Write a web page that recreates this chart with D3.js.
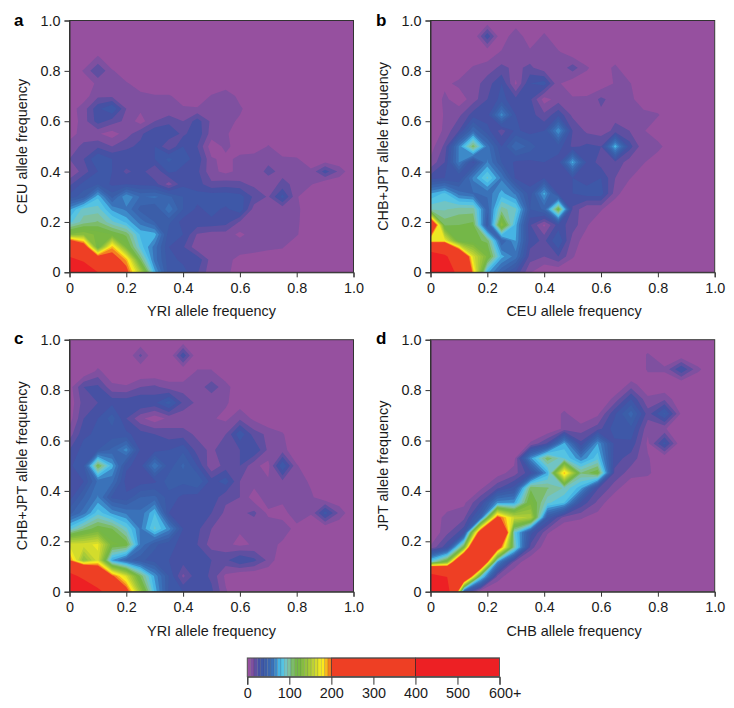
<!DOCTYPE html>
<html><head><meta charset="utf-8">
<script src="https://cdn.jsdelivr.net/npm/d3@7"></script>
<style>html,body{margin:0;padding:0;background:#fff}svg{display:block}
text{font-family:"Liberation Sans",Arial,sans-serif;fill:#1a1a1a}</style>
</head><body><svg id="c" width="734" height="708"></svg>
<script>
// rows run from allele frequency 0 upward; columns from 0 rightward
const gridA = [
[600,500,400,300,210,150,75,35,35,25,10,12,0,0,0,0,0,0,0,0,0],
[430,380,240,215,190,110,60,35,30,30,12,12,4,3,2,0,0,0,0,0,0],
[300,230,115,190,125,85,60,32,25,10,9,14,14,12,10,9,0,0,0,0,0],
[130,135,125,120,110,78,76,35,32,15,12,12,6,12,12,10,9,0,0,0,0],
[85,100,105,90,78,60,48,42,28,30,30,28,15,10,12,12,10,0,0,0,0],
[70,92,92,70,62,45,40,62,40,30,35,30,38,12,10,10,10,2,0,0,0],
[35,45,78,45,72,55,58,50,40,35,38,38,36,22,15,35,9,0,0,0,0],
[22,35,40,30,32,30,28,12,30,28,18,20,18,14,12,18,14,9,0,0,0],
[8,20,32,32,22,28,16,34,30,26,10,6,10,12,18,14,12,10,28,14,0],
[16,24,40,32,30,30,32,42,34,30,9,6,10,14,14,10,9,2,0,0,0],
[12,18,22,16,22,26,32,16,32,24,3,10,4,0,9,0,0,0,0,0,0],
[4,12,9,4,12,22,32,30,22,30,12,10,0,0,0,0,0,0,0,0,0],
[2,12,28,20,14,4,16,22,16,28,14,12,6,0,0,0,0,0,0,0,0],
[4,12,30,40,16,10,10,9,9,9,10,14,10,0,0,0,0,0,0,0,0],
[0,4,14,14,12,10,9,9,4,0,9,16,4,0,0,0,0,0,0,0,0],
[0,2,10,9,9,4,0,0,0,0,0,0,0,0,0,0,0,0,0,0,0],
[0,9,24,9,2,0,0,0,0,0,0,0,0,0,0,0,0,0,0,0,0],
[0,0,10,0,0,0,0,0,0,0,0,0,0,0,0,0,0,0,0,0,0],
[0,0,0,0,0,0,0,0,0,0,0,0,0,0,0,0,0,0,0,0,0],
[0,0,0,0,0,0,0,0,0,0,0,0,0,0,0,0,0,0,0,0,0],
[0,0,0,0,0,0,0,0,0,0,0,0,0,0,0,0,0,0,0,0,0]];
const gridB = [
[600,520,350,190,75,48,30,9,0,0,0,0,0,0,0,0,0,0,0,0,0],
[500,430,280,165,125,75,60,20,16,24,9,0,0,0,0,0,0,0,0,0,0],
[170,175,115,115,110,48,72,28,22,40,12,4,0,0,0,0,0,0,0,0,0],
[270,110,112,115,40,135,75,25,6,28,20,9,0,0,0,0,0,0,0,0,0],
[95,95,100,100,50,100,90,40,50,120,22,9,9,0,0,0,0,0,0,0,0],
[72,82,60,55,58,75,62,35,75,30,32,36,36,12,0,0,0,0,0,0,0],
[28,32,32,66,90,62,30,28,32,24,32,28,32,16,9,0,0,0,0,0,0],
[10,24,65,30,65,40,30,30,32,28,75,30,20,22,12,9,0,0,0,0,0],
[4,18,65,110,60,32,55,45,32,36,22,26,24,78,28,10,12,0,0,0,0],
[0,10,24,55,35,20,34,28,32,72,24,14,12,18,16,9,0,0,0,0,0],
[0,9,14,28,28,68,32,28,18,30,14,10,14,14,12,10,9,0,0,0,0],
[0,10,3,12,24,35,26,26,4,12,9,9,18,12,10,4,0,0,0,0,0],
[0,6,10,12,20,32,6,32,36,9,3,4,2,9,9,0,0,0,0,0,0],
[0,0,2,9,12,18,14,18,10,10,20,9,3,10,0,0,0,0,0,0,0],
[0,0,0,0,2,9,10,10,10,9,2,0,0,0,0,0,0,0,0,0,0],
[0,0,0,0,30,0,16,0,10,0,0,0,0,0,0,0,0,0,0,0,0],
[0,0,0,0,0,0,0,0,0,0,0,0,0,0,0,0,0,0,0,0,0]];
const gridC = [
[600,540,440,320,215,140,78,38,32,30,26,9,0,0,0,0,0,0,0,0,0],
[450,360,270,205,165,110,70,40,14,30,22,6,0,0,0,0,0,0,0,0,0],
[200,135,165,72,52,42,36,32,28,32,24,22,32,26,14,0,0,0,0,0,0],
[165,165,170,122,118,62,42,34,30,24,12,10,6,9,12,6,0,0,0,0,0],
[85,105,118,112,90,62,90,68,32,26,16,10,9,10,14,14,4,0,0,0,0],
[45,60,85,70,62,58,80,32,30,28,24,14,14,18,6,3,16,9,36,14,0],
[28,48,65,38,34,48,50,36,30,28,30,18,16,3,14,12,14,10,0,0,0],
[28,32,58,58,28,28,30,45,42,48,28,36,16,12,9,14,14,6,0,0,0],
[30,40,115,75,34,28,64,35,50,32,9,20,24,10,5,40,9,0,0,0,0],
[24,36,40,50,68,30,28,32,38,20,14,22,24,32,14,12,0,0,0,0,0],
[12,30,34,36,34,28,24,20,20,14,14,16,38,20,14,9,0,0,0,0,0],
[4,24,32,44,24,10,3,10,10,9,9,6,14,6,0,0,0,0,0,0,0],
[2,20,24,30,30,32,30,44,22,14,10,9,4,0,0,0,0,0,0,0,0],
[4,24,26,10,9,16,18,12,12,12,20,12,0,0,0,0,0,0,0,0,0],
[0,0,10,2,0,0,0,0,0,9,9,0,0,0,0,0,0,0,0,0,0],
[0,0,0,0,0,18,0,0,30,0,0,0,0,0,0,0,0,0,0,0,0],
[0,0,0,0,0,0,0,0,0,0,0,0,0,0,0,0,0,0,0,0,0]];
const gridD = [
[600,460,40,0,0,0,0,0,0,0,0,0,0,0,0,0,0,0],
[480,400,280,90,12,0,0,0,0,0,0,0,0,0,0,0,0,0],
[90,130,330,290,70,14,0,0,0,0,0,0,0,0,0,0,0,0],
[9,30,120,380,230,100,20,0,0,0,0,0,0,0,0,0,0,0],
[0,14,30,230,380,90,35,9,0,0,0,0,0,0,0,0,0,0],
[0,12,14,50,210,160,150,40,12,9,4,0,0,0,0,0,0,0],
[0,2,6,25,70,72,125,90,80,30,14,0,0,0,0,0,0,0],
[0,0,0,6,22,35,110,105,95,75,25,12,0,0,0,0,0,0],
[0,0,0,0,4,12,30,75,190,105,120,22,12,10,0,0,0,0],
[0,0,0,0,0,4,70,110,88,65,85,28,20,9,0,0,0,0],
[0,0,0,0,0,0,9,25,75,26,72,30,30,6,35,0,0,0],
[0,0,0,0,0,0,0,0,10,12,20,36,38,10,9,0,0,0],
[0,0,0,0,0,0,0,0,10,0,6,30,52,20,42,6,0,0],
[0,0,0,0,0,0,0,0,0,0,0,10,32,9,14,0,0,0],
[0,0,0,0,0,0,0,0,0,0,0,0,10,4,0,0,0,0],
[0,0,0,0,0,0,0,0,0,0,0,0,0,9,10,32,10,0],
[0,0,0,0,0,0,0,0,0,0,0,0,0,9,0,0,0,0],
[0,0,0,0,0,0,0,0,0,0,0,0,0,0,0,0,0,0]];
const bandStarts = [0,8,16,24,32,40,48,56,64,72,80,88,96,104,112,120,128,136,144,152,160,168,176,184,192,200,400];
const bandColors = ["#96509f","#7f50a0","#5f4fa1","#4651a4","#3e58a8","#3b5ea9","#3a66b0","#3a72b9","#3d8ac9","#46b4e4","#55c3e3","#71c4c4","#7fc19e","#7cbc6a","#74b748","#78b843","#86bd3f","#96c43c","#a8cb38","#bdd233","#d3dc2c","#ece824","#fbe91c","#f9b81b","#f58220","#ee3f24","#ed2024"];
const axisTicks = [0,0.2,0.4,0.6,0.8,1];
const barTicks = [0,100,200,300,400,500,600];
const panelLetters = ["a","b","c","d"];
const xTitles = ["YRI allele frequency","CEU allele frequency","YRI allele frequency","CHB allele frequency"];
const yTitles = ["CEU allele frequency","CHB+JPT allele frequency","CHB+JPT allele frequency","JPT allele frequency"];
const grids = [gridA,gridB,gridC,gridD];

const svg = d3.select("#c");
const FS = 14.4;
const boxes = [
 {l:69.5,r:353.5,t:20.5,b:272.3,lx:14,ly:22,tx:211.5,ty:316,yx:27},
 {l:430.5,r:714.7,t:20.5,b:272.3,lx:376,ly:22,tx:574,ty:316,yx:388},
 {l:69.5,r:353.5,t:339.7,b:591.7,lx:14,ly:340,tx:211.5,ty:636,yx:27},
 {l:430.5,r:714.7,t:339.7,b:591.7,lx:376,ly:340,tx:574,ty:636,yx:388}];
const defs = svg.append("defs");
boxes.forEach((p,i)=>{
  const g = grids[i], m = g.length, n = g[0].length;
  const flat = g.flat();
  const sx = d3.scaleLinear().domain([0.5,n-0.5]).range([p.l,p.r]);
  const sy = d3.scaleLinear().domain([0.5,m-0.5]).range([p.b,p.t]);
  const path = d3.geoPath(d3.geoTransform({point(x,y){this.stream.point(sx(x),sy(y));}}));
  defs.append("clipPath").attr("id","cp"+i).append("rect")
    .attr("x",p.l).attr("y",p.t).attr("width",p.r-p.l).attr("height",p.b-p.t);
  const root = svg.append("g").attr("clip-path",`url(#cp${i})`);
  root.append("rect").attr("x",p.l).attr("y",p.t).attr("width",p.r-p.l).attr("height",p.b-p.t).attr("fill",bandColors[0]);
  const cs = d3.contours().size([n,m]).smooth(true).thresholds(bandStarts.slice(1))(flat);
  root.selectAll("path").data(cs).join("path").attr("d",path)
    .attr("fill",d=>bandColors[bandStarts.indexOf(d.value)]);
  const fx = d3.scaleLinear().domain([0,1]).range([p.l,p.r]);
  const fy = d3.scaleLinear().domain([0,1]).range([p.b,p.t]);
  const fmt = v=>v===0?"0":d3.format(".1f")(v);
  const ax = svg.append("g").attr("transform",`translate(0,${p.b})`)
    .call(d3.axisBottom(fx).tickValues(axisTicks).tickFormat(fmt).tickSize(5).tickPadding(5));
  const ay = svg.append("g").attr("transform",`translate(${p.l},0)`)
    .call(d3.axisLeft(fy).tickValues(axisTicks).tickFormat(fmt).tickSize(5).tickPadding(4));
  [ax,ay].forEach(a=>{a.selectAll("text").style("font-size",FS+"px").attr("font-family",null);
    a.selectAll("line,path").attr("stroke","#333");a.attr("font-family",null).attr("font-size",null);});
  svg.append("rect").attr("x",p.l).attr("y",p.t).attr("width",p.r-p.l).attr("height",p.b-p.t)
    .attr("fill","none").attr("stroke","#333");
  svg.append("text").attr("x",p.tx).attr("y",p.ty).attr("text-anchor","middle").style("font-size",FS+"px").text(xTitles[i]);
  svg.append("text").attr("transform",`translate(${p.yx},${(p.t+p.b)/2}) rotate(-90)`).attr("text-anchor","middle").style("font-size",FS+"px").text(yTitles[i]);
  svg.append("text").attr("x",p.lx).attr("y",p.ly+4).style("font-size","17px").style("font-weight","bold").style("fill","#000").text(panelLetters[i]);
});
// colour key
const bx = d3.scaleLinear().domain([0,600]).range([247.3,499.5]);
const key = svg.append("g");
bandStarts.forEach((s,i)=>{
  const e = i+1<bandStarts.length?bandStarts[i+1]:600;
  key.append("rect").attr("x",bx(s)).attr("y",658).attr("width",bx(e)-bx(s)).attr("height",18.7).attr("fill",bandColors[i])
    .attr("stroke","#222").attr("stroke-opacity",s<200?0.25:0.8).attr("stroke-width",s<200?0.5:0.8);
});
const kax = svg.append("g").attr("transform","translate(0,676.7)")
  .call(d3.axisBottom(bx).tickValues(barTicks).tickFormat(v=>v===600?"600+":v).tickSize(8).tickPadding(3));
kax.attr("font-family",null).attr("font-size",null);
kax.selectAll("line").attr("stroke","#333");kax.select("path").attr("stroke","#333");
kax.selectAll("text").style("font-size",FS+"px");
kax.selectAll("text").filter(v=>v===600).attr("text-anchor","start").attr("dx","-11");
svg.append("rect").attr("x",247.3).attr("y",658).attr("width",252.2).attr("height",18.7).attr("fill","none").attr("stroke","#555");
</script></body></html>
